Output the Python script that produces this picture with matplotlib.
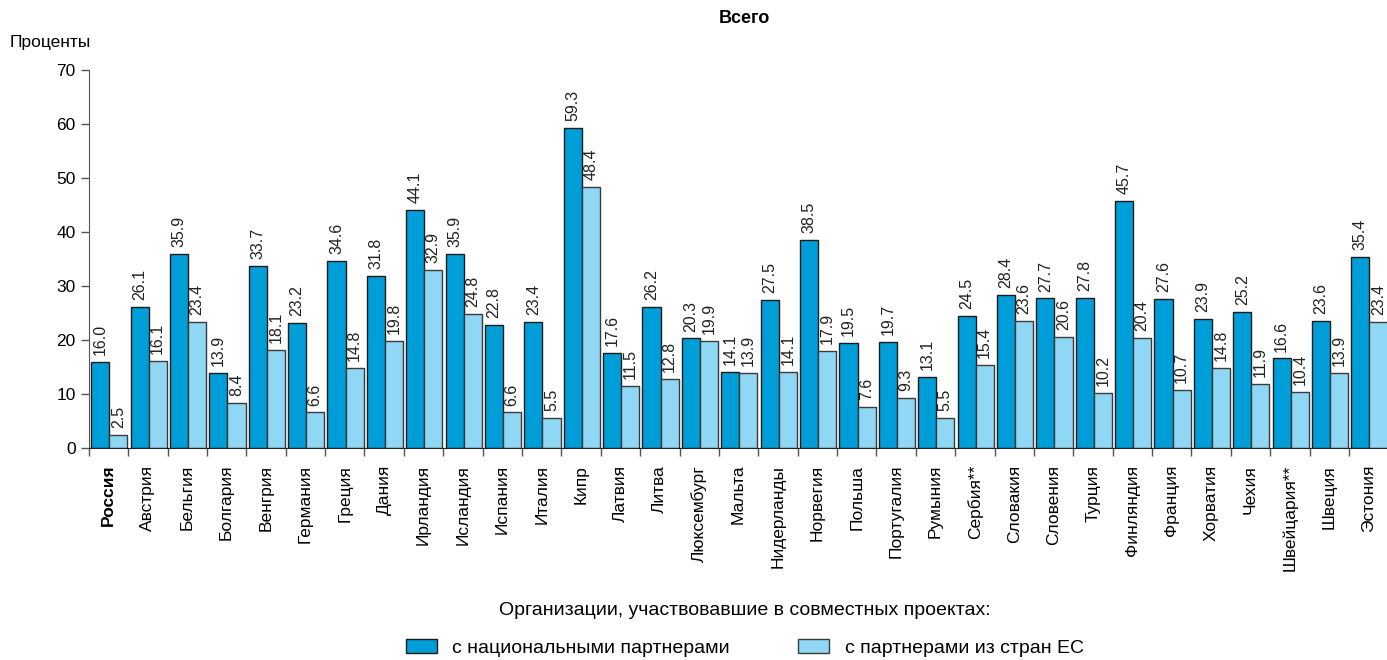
import numpy as np
import matplotlib
matplotlib.use("Agg")
import matplotlib.pyplot as plt
import matplotlib.patches as patches

plt.rcParams['font.family'] = ['Liberation Sans', 'DejaVu Sans']

countries = ['Россия', 'Австрия', 'Бельгия', 'Болгария', 'Венгрия', 'Германия', 'Греция',
             'Дания', 'Ирландия', 'Исландия', 'Испания', 'Италия', 'Кипр', 'Латвия', 'Литва',
             'Люксембург', 'Мальта', 'Нидерланды', 'Норвегия', 'Польша', 'Португалия',
             'Румыния', 'Сербия**', 'Словакия', 'Словения', 'Турция', 'Финляндия', 'Франция',
             'Хорватия', 'Чехия', 'Швейцария**', 'Швеция', 'Эстония']
national = [16.0, 26.1, 35.9, 13.9, 33.7, 23.2, 34.6, 31.8, 44.1, 35.9, 22.8, 23.4, 59.3,
            17.6, 26.2, 20.3, 14.1, 27.5, 38.5, 19.5, 19.7, 13.1, 24.5, 28.4, 27.7, 27.8,
            45.7, 27.6, 23.9, 25.2, 16.6, 23.6, 35.4]
eu = [2.5, 16.1, 23.4, 8.4, 18.1, 6.6, 14.8, 19.8, 32.9, 24.8, 6.6, 5.5, 48.4, 11.5, 12.8,
      19.9, 13.9, 14.1, 17.9, 7.6, 9.3, 5.5, 15.4, 23.6, 20.6, 10.2, 20.4, 10.7, 14.8, 11.9,
      10.4, 13.9, 23.4]

c_dark = '#009ed8'
c_light = '#8fd7f4'

fig = plt.figure(figsize=(13.87, 6.6), dpi=100)
ax = fig.add_axes([0.064, 0.321, 0.937, 0.573])

n = len(countries)
x = np.arange(n)
w = 0.46
b1 = ax.bar(x - w/2 + 0.02, national, w, color=c_dark, edgecolor='#1a1a1a', linewidth=1.0)
b2 = ax.bar(x + w/2 + 0.02, eu, w, color=c_light, edgecolor='#3a3a3a', linewidth=1.0)

for bars, vals in ((b1, national), (b2, eu)):
    for r, v in zip(bars, vals):
        ax.annotate('%.1f' % v, (r.get_x() + r.get_width()/2, v), xytext=(0, 5),
                    textcoords='offset points', rotation=90, ha='center', va='bottom',
                    fontsize=11.5, color='#222222')

ax.set_xlim(-0.5, n - 0.5)
ax.set_ylim(0, 70)
ax.set_yticks(range(0, 71, 10))
ax.set_xticks(x - 0.5, minor=False)
ax.set_xticklabels([])
ax.set_xticks(x, minor=True)
ax.set_xticklabels(countries, minor=True, rotation=90, fontsize=12.5)
ax.tick_params(axis='x', which='minor', length=0, pad=12)
ax.tick_params(axis='x', which='major', length=6, width=1, color='#555555')
ax.tick_params(axis='y', length=6, width=1, color='#555555', labelsize=12.5)
for lab in ax.get_xticklabels(minor=True):
    if lab.get_text() == 'Россия':
        lab.set_fontweight('bold')
for s in ('top', 'right'):
    ax.spines[s].set_visible(False)
ax.spines['left'].set_color('#555555')
ax.spines['bottom'].set_color('#222222')

fig.text(0.537, 0.972, 'Всего', ha='center', va='center', fontsize=13, fontweight='bold')
fig.text(0.007, 0.936, 'Проценты', ha='left', va='center', fontsize=12.5)

fig.text(0.537, 0.075, 'Организации, участвовавшие в совместных проектах:',
         ha='center', va='center', fontsize=14)
h1 = patches.Patch(facecolor=c_dark, edgecolor='#1a1a1a')
h2 = patches.Patch(facecolor=c_light, edgecolor='#3a3a3a')
fig.legend([h1, h2], ['с национальными партнерами', 'с партнерами из стран ЕС'],
           loc='center', bbox_to_anchor=(0.537, 0.018), ncol=2, frameon=False,
           fontsize=14, columnspacing=3.5, handlelength=1.6, handletextpad=0.8)

fig.savefig('out.png', dpi=100)
